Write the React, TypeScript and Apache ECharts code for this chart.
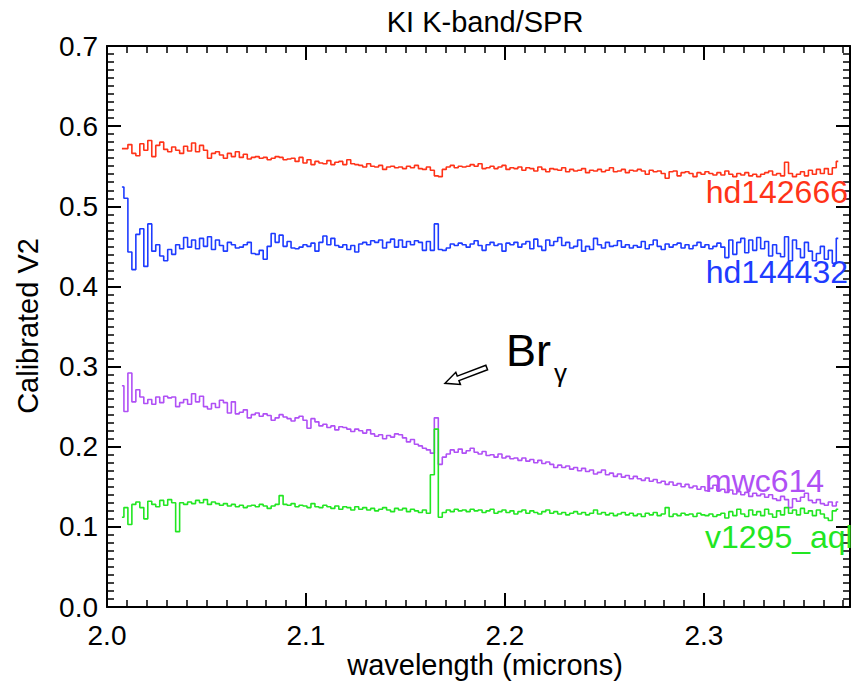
import React, { useEffect, useRef } from "react";
import * as echarts from "echarts";

// wavelength grid (microns)
const WL_START = 2.0075;
const WL_STEP = 0.002;

const X_MIN = 2.0;
const X_MAX = 2.3734;
const Y_MIN = 0.0;
const Y_MAX = 0.7;

const xTickLabels = ["2.0", "2.1", "2.2", "2.3"];
const yTickLabels = ["0.0", "0.1", "0.2", "0.3", "0.4", "0.5", "0.6", "0.7"];

const seriesNames = ["hd142666", "hd144432", "mwc614", "v1295_aql"];
const seriesColors = ["#ff3318", "#1e3cff", "#b050f5", "#22e622"];

const hd142666 = [
  0.572, 0.572, 0.577, 0.566, 0.563, 0.578, 0.570, 0.582, 0.562, 0.576,
  0.580, 0.571, 0.568, 0.574, 0.570, 0.566, 0.575, 0.569, 0.579, 0.568,
  0.576, 0.570, 0.560, 0.566, 0.568, 0.564, 0.560, 0.566, 0.562, 0.568,
  0.561, 0.565, 0.559, 0.561, 0.562, 0.560, 0.561, 0.558, 0.560, 0.562,
  0.561, 0.558, 0.559, 0.560, 0.556, 0.561, 0.554, 0.558, 0.552, 0.556,
  0.554, 0.553, 0.557, 0.552, 0.555, 0.556, 0.552, 0.558, 0.553, 0.552,
  0.551, 0.549, 0.553, 0.550, 0.549, 0.551, 0.546, 0.549, 0.550, 0.548,
  0.549, 0.547, 0.550, 0.548, 0.551, 0.547, 0.546, 0.549, 0.545, 0.538,
  0.537, 0.546, 0.549, 0.551, 0.548, 0.550, 0.549, 0.550, 0.552, 0.550,
  0.553, 0.547, 0.548, 0.550, 0.547, 0.549, 0.551, 0.546, 0.548, 0.547,
  0.549, 0.545, 0.548, 0.547, 0.544, 0.549, 0.546, 0.543, 0.547, 0.546,
  0.545, 0.548, 0.543, 0.546, 0.544, 0.545, 0.547, 0.542, 0.545, 0.544,
  0.546, 0.543, 0.545, 0.548, 0.543, 0.544, 0.546, 0.542, 0.545, 0.544,
  0.546, 0.544, 0.540, 0.545, 0.543, 0.544, 0.541, 0.535, 0.543, 0.544,
  0.538, 0.542, 0.543, 0.541, 0.537, 0.542, 0.540, 0.543, 0.541, 0.539,
  0.542, 0.539, 0.544, 0.540, 0.537, 0.541, 0.539, 0.542, 0.538, 0.540,
  0.537, 0.540, 0.542, 0.544, 0.539, 0.541, 0.538, 0.555, 0.541, 0.537,
  0.540, 0.543, 0.538, 0.545, 0.540, 0.546, 0.541, 0.547, 0.540, 0.548,
  0.556,
];

const hd144432 = [
  0.524, 0.510, 0.443, 0.421, 0.465, 0.472, 0.425, 0.478, 0.444, 0.452,
  0.438, 0.432, 0.446, 0.440, 0.452, 0.447, 0.461, 0.449, 0.458, 0.447,
  0.460, 0.450, 0.462, 0.446, 0.458, 0.451, 0.444, 0.455, 0.452, 0.448,
  0.449, 0.452, 0.455, 0.441, 0.440, 0.445, 0.434, 0.450, 0.466, 0.455,
  0.464, 0.450, 0.456, 0.448, 0.447, 0.449, 0.452, 0.450, 0.454, 0.444,
  0.455, 0.463, 0.452, 0.460, 0.451, 0.449, 0.452, 0.446, 0.451, 0.443,
  0.453, 0.455, 0.452, 0.457, 0.455, 0.458, 0.448, 0.455, 0.459, 0.449,
  0.458, 0.449, 0.456, 0.452, 0.457, 0.455, 0.445, 0.456, 0.445, 0.478,
  0.446, 0.445, 0.448, 0.453, 0.451, 0.454, 0.452, 0.449, 0.453, 0.457,
  0.451, 0.445, 0.452, 0.455, 0.451, 0.453, 0.444, 0.454, 0.452, 0.455,
  0.449, 0.453, 0.456, 0.447, 0.459, 0.450, 0.445, 0.458, 0.451, 0.456,
  0.461, 0.451, 0.455, 0.448, 0.450, 0.458, 0.444, 0.450, 0.446, 0.460,
  0.452, 0.448, 0.455, 0.450, 0.451, 0.457, 0.449, 0.452, 0.448, 0.451,
  0.449, 0.456, 0.447, 0.452, 0.458, 0.450, 0.446, 0.453, 0.449, 0.452,
  0.454, 0.448, 0.452, 0.447, 0.451, 0.455, 0.449, 0.452, 0.447, 0.450,
  0.454, 0.449, 0.436, 0.458, 0.440, 0.455, 0.460, 0.442, 0.458, 0.445,
  0.461, 0.447, 0.456, 0.438, 0.452, 0.441, 0.437, 0.462, 0.432, 0.458,
  0.447, 0.436, 0.455, 0.444, 0.432, 0.441, 0.450, 0.434, 0.445, 0.429,
  0.460,
];

const mwc614 = [
  0.276, 0.244, 0.292, 0.256, 0.271, 0.262, 0.254, 0.259, 0.253, 0.262,
  0.255, 0.263, 0.261, 0.262, 0.250, 0.255, 0.259, 0.253, 0.266, 0.256,
  0.263, 0.250, 0.247, 0.254, 0.249, 0.258, 0.255, 0.242, 0.256, 0.241,
  0.243, 0.246, 0.236, 0.240, 0.242, 0.238, 0.241, 0.239, 0.233, 0.236,
  0.240, 0.237, 0.235, 0.232, 0.236, 0.238, 0.233, 0.223, 0.235, 0.231,
  0.226, 0.228, 0.224, 0.226, 0.221, 0.225, 0.224, 0.222, 0.219, 0.222,
  0.220, 0.217, 0.221, 0.216, 0.213, 0.215, 0.210, 0.214, 0.212, 0.216,
  0.215, 0.211, 0.206, 0.209, 0.203, 0.201, 0.198, 0.196, 0.192, 0.236,
  0.178, 0.187, 0.191, 0.196, 0.193, 0.197, 0.192, 0.195, 0.198, 0.193,
  0.191, 0.194, 0.189, 0.190, 0.187, 0.191, 0.186, 0.188, 0.185, 0.186,
  0.183, 0.186, 0.182, 0.184, 0.180, 0.183, 0.179, 0.181, 0.178, 0.174,
  0.177, 0.174, 0.176, 0.172, 0.174, 0.170, 0.173, 0.169, 0.171, 0.166,
  0.168, 0.171, 0.165, 0.167, 0.163, 0.166, 0.162, 0.164, 0.160, 0.163,
  0.160, 0.158, 0.161, 0.157, 0.159, 0.155, 0.157, 0.153, 0.156, 0.152,
  0.154, 0.150, 0.153, 0.149, 0.151, 0.147, 0.150, 0.145, 0.148, 0.152,
  0.145, 0.147, 0.143, 0.146, 0.141, 0.144, 0.140, 0.143, 0.138, 0.142,
  0.139, 0.141, 0.137, 0.140, 0.135, 0.133, 0.138, 0.134, 0.124, 0.135,
  0.132, 0.137, 0.142, 0.133, 0.130, 0.134, 0.129, 0.127, 0.131, 0.126,
  0.131,
];

const v1295_aql = [
  0.112, 0.124, 0.103, 0.128, 0.131, 0.124, 0.110, 0.132, 0.128, 0.125,
  0.133, 0.127, 0.134, 0.130, 0.094, 0.130, 0.128, 0.131, 0.129, 0.133,
  0.130, 0.134, 0.128, 0.131, 0.129, 0.127, 0.129, 0.126, 0.128, 0.125,
  0.127, 0.124, 0.126, 0.127, 0.125, 0.128, 0.126, 0.123, 0.126, 0.128,
  0.139, 0.128, 0.127, 0.129, 0.125, 0.127, 0.126, 0.124, 0.129, 0.125,
  0.124, 0.127, 0.125, 0.123, 0.126, 0.122, 0.125, 0.124, 0.121, 0.125,
  0.122, 0.124, 0.121, 0.123, 0.120, 0.122, 0.124, 0.121, 0.119, 0.123,
  0.121, 0.123, 0.119, 0.122, 0.120, 0.118, 0.121, 0.117, 0.165, 0.222,
  0.112, 0.118, 0.121, 0.119, 0.122, 0.120, 0.121, 0.119, 0.122, 0.120,
  0.121, 0.118, 0.120, 0.122, 0.117, 0.119, 0.121, 0.118, 0.120, 0.116,
  0.119, 0.121, 0.117, 0.120, 0.118, 0.116, 0.119, 0.121, 0.117, 0.119,
  0.116, 0.118, 0.115, 0.117, 0.119, 0.116, 0.118, 0.115, 0.117, 0.121,
  0.116, 0.118, 0.115, 0.117, 0.114, 0.116, 0.118, 0.115, 0.117, 0.114,
  0.116, 0.113, 0.117, 0.115, 0.118, 0.114, 0.116, 0.124, 0.113, 0.116,
  0.114, 0.117, 0.115, 0.116, 0.113, 0.117, 0.115, 0.114, 0.116, 0.113,
  0.115, 0.117, 0.111, 0.119, 0.114, 0.122, 0.116, 0.113, 0.121, 0.115,
  0.119, 0.114, 0.122, 0.116, 0.112, 0.120, 0.115, 0.124, 0.117, 0.121,
  0.115, 0.123, 0.117, 0.120, 0.114, 0.121, 0.116, 0.111, 0.108, 0.120,
  0.122,
];

const seriesValues = [hd142666, hd144432, mwc614, v1295_aql];

const FONT = '"Liberation Sans", Arial, Helvetica, sans-serif';

export default function App() {
  const ref = useRef<HTMLDivElement>(null);

  useEffect(() => {
    if (!ref.current) return;
    const chart = echarts.init(ref.current, undefined, { renderer: "svg" });

    const isMajor = (v: number, step: number) =>
      Math.abs(v / step - Math.round(v / step)) < 1e-6;

    const fmtX = (v: number) => {
      if (!isMajor(v, 0.1)) return "";
      const s = v.toFixed(1);
      return xTickLabels.includes(s) ? s : "";
    };
    const fmtY = (v: number) => {
      if (!isMajor(v, 0.1)) return "";
      const s = v.toFixed(1);
      return yTickLabels.includes(s) ? s : "";
    };

    const black = "#000";
    const axisLine = { show: true, onZero: false, lineStyle: { color: black, width: 2 } };
    const noLine = { show: false, onZero: false };

    const xBase: any = {
      type: "value",
      min: X_MIN,
      max: X_MAX,
      gridIndex: 0,
      splitLine: { show: false },
      axisLabel: { show: false },
    };

    const yBase: any = {
      type: "value",
      min: Y_MIN,
      max: Y_MAX,
      interval: 0.1,
      splitLine: { show: false },
      minorSplitLine: { show: false },
      axisLine,
      axisTick: { show: true, inside: true, length: 14, lineStyle: { color: black, width: 2 } },
      minorTick: { show: true, splitNumber: 10, length: 7, lineStyle: { color: black, width: 1.5 } },
    };

    const series = seriesValues.map((vals, k) => ({
      name: seriesNames[k],
      type: "line",
      step: "middle",
      xAxisIndex: 0,
      yAxisIndex: 0,
      symbol: "none",
      showSymbol: false,
      silent: true,
      lineStyle: { color: seriesColors[k], width: 1.6 },
      data: vals.map((v, i) => [WL_START + i * WL_STEP, v]),
      z: 2,
    }));

    // hollow arrow pointing at Br-gamma
    const tail = [486.7, 367.5];
    const tip = [445, 383.3];
    const dx = tip[0] - tail[0];
    const dy = tip[1] - tail[1];
    const len = Math.hypot(dx, dy);
    const ux = dx / len, uy = dy / len;
    const nx = -uy, ny = ux;
    const headLen = 14, shaftW = 2.4, headW = 6.5;
    const neck = [tip[0] - ux * headLen, tip[1] - uy * headLen];
    const arrowPts = [
      [tail[0] + nx * shaftW, tail[1] + ny * shaftW],
      [neck[0] + nx * shaftW, neck[1] + ny * shaftW],
      [neck[0] + nx * headW, neck[1] + ny * headW],
      tip,
      [neck[0] - nx * headW, neck[1] - ny * headW],
      [neck[0] - nx * shaftW, neck[1] - ny * shaftW],
      [tail[0] - nx * shaftW, tail[1] - ny * shaftW],
    ];

    const txt = (text: string, x: number, y: number, size: number, color: string, align: string, extra: any = {}) => ({
      type: "text",
      x,
      y,
      z: 10,
      ...extra,
      style: {
        text,
        fill: color,
        font: `${size}px ${FONT}`,
        align,
        verticalAlign: "middle",
        textAlign: align,
        textVerticalAlign: "middle",
      },
    });

    chart.setOption({
      animation: false,
      backgroundColor: "#fff",
      grid: { left: 107, top: 46, width: 743, height: 561, containLabel: false },
      xAxis: [
        {
          ...xBase,
          position: "bottom",
          interval: 0.1,
          axisLine,
          axisTick: { show: true, inside: true, length: 14, lineStyle: { color: black, width: 2 } },
          axisLabel: { show: true, margin: 14, fontSize: 28, fontFamily: FONT, color: black, formatter: fmtX },
        },
        {
          ...xBase,
          position: "bottom",
          interval: 0.01,
          axisLine: noLine,
          axisTick: { show: true, inside: true, length: 7, lineStyle: { color: black, width: 1.5 } },
        },
        {
          ...xBase,
          position: "top",
          interval: 0.1,
          axisLine,
          axisTick: { show: true, inside: true, length: 14, lineStyle: { color: black, width: 2 } },
        },
        {
          ...xBase,
          position: "top",
          interval: 0.01,
          axisLine: noLine,
          axisTick: { show: true, inside: true, length: 7, lineStyle: { color: black, width: 1.5 } },
        },
      ],
      yAxis: [
        {
          ...yBase,
          position: "left",
          axisLabel: { show: true, margin: 9, fontSize: 28, fontFamily: FONT, color: black, formatter: fmtY },
        },
        {
          ...yBase,
          position: "right",
          axisLabel: { show: false },
        },
      ],
      series,
      graphic: [
        txt("KI K-band/SPR", 485, 22, 29, black, "center"),
        txt("wavelength (microns)", 485, 665, 29, black, "center"),
        txt("Calibrated V2", 28, 326, 29, black, "center", { rotation: Math.PI / 2 }),
        txt(seriesNames[0], 848, 192, 32, seriesColors[0], "right"),
        txt(seriesNames[1], 848, 272, 32, seriesColors[1], "right"),
        txt(seriesNames[2], 705, 481, 32, seriesColors[2], "left"),
        txt(seriesNames[3], 705, 537, 32, seriesColors[3], "left"),
        txt("Br", 506, 350, 45, black, "left"),
        txt("γ", 554, 373, 26, black, "left"),
        {
          type: "polygon",
          z: 10,
          shape: { points: arrowPts },
          style: { fill: "#fff", stroke: black, lineWidth: 1.5 },
        },
      ],
    });

    return () => chart.dispose();
  }, []);

  return (
    <div
      ref={ref}
      style={{ position: "absolute", left: 0, top: 0, width: 861, height: 682, background: "#fff" }}
    />
  );
}
